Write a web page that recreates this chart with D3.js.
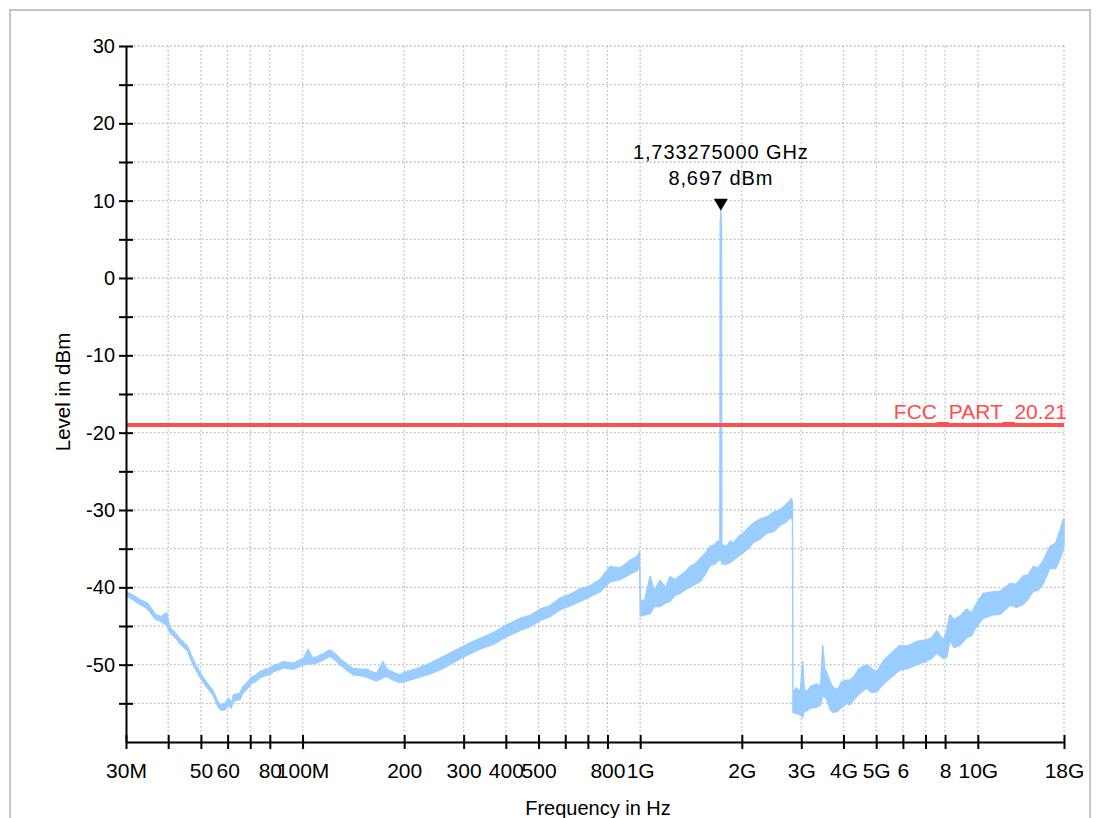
<!DOCTYPE html>
<html>
<head>
<meta charset="utf-8">
<script src="https://cdn.jsdelivr.net/npm/d3@7"></script>
<style>
  html, body { margin: 0; padding: 0; background: #fff; }
  svg { display: block; font-family: "Liberation Sans", Arial, Helvetica, sans-serif; }
</style>
</head>
<body>
<svg id="chart" width="1101" height="818"></svg>
<script>
// ---------------- data ----------------
const freqMHz = [
  30.1, 31.5, 33.0, 34.6, 35.5, 36.6, 38.0, 39.6, 40.5, 42.0, 43.4, 45.6, 47.5, 49.7, 52.0, 54.4, 56.3, 57.5, 59.0, 60.3,
  61.5, 62.4, 65.3, 66.5, 68.3, 70.7, 72.5, 74.8, 77.5, 80.1, 82.0, 85.0, 87.7, 93.9, 100.5, 104, 107, 110, 115, 120.6,
  125, 129, 135, 141, 148, 155, 160, 166, 173, 177, 182, 188, 194,
  200, 215, 239, 260, 300, 335, 370, 400, 441, 475, 505, 540, 579, 620, 664, 710, 760, 814, 872, 933, 980, 996,
  1001, 1030, 1070, 1100, 1145, 1190, 1226, 1270, 1312, 1360, 1405, 1450, 1504, 1560, 1610, 1660, 1700, 1722,
  1726, 1733.275, 1741, 1745,
  1804, 1850, 1887, 1950, 2020, 2090, 2163, 2260, 2369, 2480, 2595, 2700, 2780, 2810, 2825,
  2835, 2900, 2980, 3029, 3060, 3114, 3200, 3334, 3420, 3474, 3520, 3568, 3650, 3733, 3850, 3950, 4090, 4182, 4300, 4450,
  4686, 4850, 5020, 5250, 5550, 5884, 6200, 6593, 7059, 7300, 7554, 7902, 8100, 8272, 8500, 8860, 9270, 9600, 9925,
  10380, 11000, 11630, 12460, 13000, 13640, 14100, 14600, 15100, 15630, 16370, 17000, 17520, 17800, 18000
];
const levelHi = [
  -40.6, -41.0, -41.6, -42.0, -42.6, -43.5, -43.8, -43.3, -45.2, -45.9, -46.7, -47.6, -49.4, -51.0, -52.3, -53.4, -54.9, -55.2, -55.0, -54.3,
  -55.0, -53.9, -53.7, -52.9, -52.4, -51.6, -51.4, -50.9, -50.6, -50.5, -50.1, -49.9, -49.6, -49.8, -49.2, -48.0, -49.1, -49.0, -48.6, -48.1,
  -48.6, -49.2, -49.9, -50.5, -50.6, -50.6, -50.9, -51.1, -49.6, -50.5, -50.8, -51.1, -51.3,
  -51.0, -50.6, -49.8, -49.0, -47.6, -46.6, -45.8, -44.9, -44.0, -43.6, -42.8, -42.4, -41.4, -40.9, -40.2, -39.8, -39.0, -37.3, -37.5, -36.5, -36.0, -35.4,
  -41.6, -41.8, -38.6, -40.5, -39.1, -40.0, -38.6, -39.0, -38.5, -38.0, -37.3, -37.0, -36.3, -35.6, -34.7, -34.5, -34.0, -34.2,
  7.0, 8.697, 6.5, -34.5,
  -34.7, -34.0, -34.3, -33.5, -33.0, -32.3, -31.7, -31.2, -30.9, -30.3, -30.0, -29.3, -28.8, -28.5, -29.2,
  -53.6, -53.0, -53.5, -49.6, -53.2, -53.5, -52.8, -52.5, -52.8, -47.5, -50.5, -51.0, -52.2, -53.0, -53.2, -52.2, -52.0, -52.0, -51.5, -50.5,
  -50.0, -50.5, -51.0, -49.5, -48.5, -47.5, -47.6, -47.0, -46.8, -46.5, -45.6, -46.8, -45.5, -43.5, -44.2, -43.7, -42.8, -43.3, -42.0,
  -40.8, -40.6, -40.5, -39.5, -39.6, -38.5, -38.4, -37.3, -37.5, -36.5, -34.7, -34.3, -32.6, -31.6, -31.1
];
const levelLo = [
  -41.1, -41.6, -42.2, -42.7, -43.3, -44.1, -44.4, -44.9, -45.9, -46.5, -47.3, -48.2, -50.1, -51.6, -52.9, -54.0, -55.5, -55.9, -55.8, -55.2,
  -55.6, -54.7, -54.5, -53.7, -53.2, -52.4, -52.2, -51.7, -51.4, -51.3, -50.9, -50.7, -50.4, -50.6, -50.0, -49.9, -49.9, -49.8, -49.4, -48.9,
  -49.4, -50.0, -50.7, -51.3, -51.4, -51.6, -51.9, -52.1, -51.7, -51.5, -51.8, -52.1, -52.3,
  -52.2, -51.8, -51.2, -50.5, -49.0, -48.0, -47.3, -46.4, -45.6, -45.0, -44.3, -43.8, -42.9, -42.4, -41.8, -41.2, -40.6, -39.3, -39.0, -38.3, -37.8, -37.3,
  -43.7, -43.6, -43.4, -42.5, -42.5, -42.0, -41.8, -41.0, -40.8, -40.3, -40.0, -39.6, -39.3, -38.3, -37.2, -37.0, -36.6, -36.3,
  -36.5, -36.5, -36.5, -37.0,
  -37.0, -36.8, -36.5, -36.0, -35.5, -35.0, -34.2, -33.8, -33.0, -32.8, -32.0, -31.6, -31.0, -31.0, -31.5,
  -56.2, -56.3, -56.5, -56.8, -56.0, -56.0, -55.6, -55.5, -55.2, -54.0, -54.2, -54.5, -55.8, -56.2, -56.0, -55.5, -55.0, -55.2, -54.5, -53.8,
  -53.0, -53.6, -53.5, -52.5, -51.6, -50.7, -50.5, -50.0, -49.5, -49.2, -48.5, -49.2, -49.0, -46.8, -47.8, -47.5, -46.5, -46.2, -45.0,
  -44.0, -43.6, -43.5, -42.3, -42.6, -42.2, -41.5, -40.5, -40.4, -39.5, -37.5, -37.6, -36.3, -35.5, -34.5
];

const xTickValues = [30, 40, 50, 60, 70, 80, 100, 200, 300, 400, 500, 600, 700, 800, 1000, 2000, 3000, 4000, 5000, 6000, 7000, 8000, 10000, 18000];
const xTickLabels = ["30M", "", "50", "60", "", "80", "100M", "200", "300", "400", "500", "", "", "800", "1G", "2G", "3G", "4G", "5G", "6", "", "8", "10G", "18G"];
const yTickValues = [-55, -50, -45, -40, -35, -30, -25, -20, -15, -10, -5, 0, 5, 10, 15, 20, 25, 30];
const yTickLabels = ["", "-50", "", "-40", "", "-30", "", "-20", "", "-10", "", "0", "", "10", "", "20", "", "30"];

const markerFreq = 1733.275;
const markerLevel = 8.697;
const markerLines = ["1,733275000 GHz", "8,697 dBm"];

const limitLevel = -19;
const limitName = "FCC_PART_20.21";

const xTitle = "Frequency in Hz";
const yTitle = "Level in dBm";

// ---------------- drawing ----------------
const svg = d3.select("#chart");
svg.append("rect").attr("width", 1101).attr("height", 818).attr("fill", "#fff");
svg.append("rect").attr("x", 10).attr("y", 10).attr("width", 1080).attr("height", 840)
  .attr("fill", "none").attr("stroke", "#c4c4c4").attr("stroke-width", 2);

const x = d3.scaleLog().domain([30, 18000]).range([126, 1064]);
const y = d3.scaleLinear().domain([-60, 30]).range([742, 46]);

const gridColor = "#b8b8b8";
const grid = svg.append("g");
grid.selectAll("line.v").data(xTickValues.slice(1)).join("line")
  .attr("x1", d => x(d)).attr("x2", d => x(d))
  .attr("y1", y(30)).attr("y2", y(-60))
  .attr("stroke", gridColor).attr("stroke-width", 1.3).attr("stroke-dasharray", "1.5,2.5");
grid.selectAll("line.h").data(yTickValues).join("line")
  .attr("x1", x(30)).attr("x2", x(18000))
  .attr("y1", d => y(d)).attr("y2", d => y(d))
  .attr("stroke", gridColor).attr("stroke-width", 1.3).attr("stroke-dasharray", "1.5,2.5");

// trace
const trace = freqMHz.map((f, i) => ({ f, hi: levelHi[i], lo: levelLo[i] }));
const area = d3.area().x(d => x(d.f)).y0(d => y(d.lo)).y1(d => y(d.hi));
svg.append("path").datum(trace).attr("d", area)
  .attr("fill", "#99ccff").attr("stroke", "#99ccff").attr("stroke-width", 1.4).attr("stroke-linejoin", "round");

// limit line
svg.append("line").attr("x1", x(30)).attr("x2", x(18000))
  .attr("y1", y(limitLevel)).attr("y2", y(limitLevel))
  .attr("stroke", "#ff5050").attr("stroke-width", 4);
svg.append("text").attr("x", 1067).attr("y", y(limitLevel) - 6)
  .attr("text-anchor", "end").attr("font-size", 21).attr("fill", "#ff4d4d").text(limitName);

// axes
const xAxis = d3.axisBottom(x).tickValues(xTickValues)
  .tickFormat((d, i) => xTickLabels[i]).tickSizeInner(7).tickSizeOuter(0).tickPadding(14);
const gx = svg.append("g").attr("transform", `translate(0,${y(-60)})`).call(xAxis);
gx.select(".domain").attr("stroke", "#000").attr("stroke-width", 2);
gx.selectAll(".tick line").attr("y1", -7).attr("y2", 7).attr("stroke", "#000").attr("stroke-width", 2);
gx.selectAll(".tick text").attr("font-size", 21).attr("font-family", null).attr("fill", "#000");

const yAxis = d3.axisLeft(y).tickValues(yTickValues)
  .tickFormat((d, i) => yTickLabels[i]).tickSizeInner(7).tickSizeOuter(0).tickPadding(4);
const gy = svg.append("g").attr("transform", `translate(${x(30)},0)`).call(yAxis);
gy.select(".domain").attr("stroke", "#000").attr("stroke-width", 2);
gy.selectAll(".tick line").attr("x1", -7).attr("x2", 7).attr("stroke", "#000").attr("stroke-width", 2);
gy.selectAll(".tick text").attr("font-size", 20).attr("font-family", null).attr("fill", "#000");

// titles
svg.append("text").attr("x", 598).attr("y", 815).attr("text-anchor", "middle")
  .attr("font-size", 20).text(xTitle);
svg.append("text").attr("transform", `translate(70,392) rotate(-90)`).attr("text-anchor", "middle")
  .attr("font-size", 20.5).text(yTitle);

// marker
const mx = x(markerFreq), my = y(markerLevel);
svg.append("path").attr("d", `M${mx - 7},${my - 12}L${mx + 7},${my - 12}L${mx},${my}Z`).attr("fill", "#000");
svg.append("text").attr("x", mx).attr("y", my - 52).attr("text-anchor", "middle")
  .attr("font-size", 20).attr("letter-spacing", 0.9).text(markerLines[0]);
svg.append("text").attr("x", mx).attr("y", my - 26).attr("text-anchor", "middle")
  .attr("font-size", 20).attr("letter-spacing", 0.9).text(markerLines[1]);
</script>
</body>
</html>
